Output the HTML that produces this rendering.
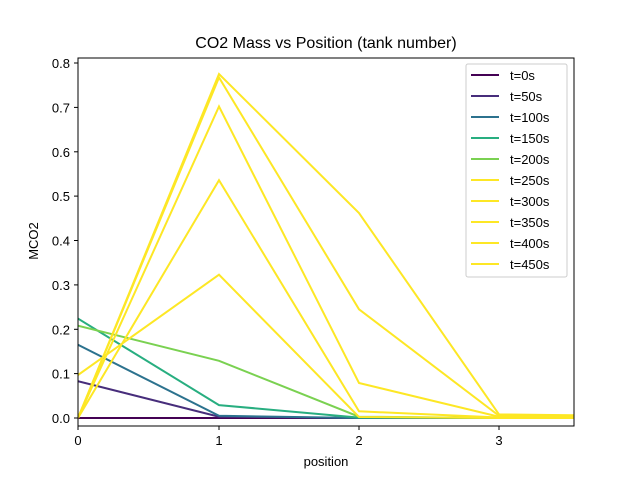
<!DOCTYPE html>
<html><head><meta charset="utf-8"><style>body{margin:0;background:#fff}svg{display:block;font-family:"Liberation Sans","DejaVu Sans",sans-serif}</style></head><body>
<svg width="637" height="477" xmlns="http://www.w3.org/2000/svg">
<defs><clipPath id="c"><rect x="78" y="58" width="496" height="368"/></clipPath></defs>
<rect width="637" height="477" fill="#fff"/>
<g clip-path="url(#c)" fill="none" stroke-width="2">
<polyline stroke="#440154" points="78,418 219,418 359,418 499,418 640,418"/>
<polyline stroke="#472d7b" points="78,381.2 219,416.7 359,418 499,418 640,418"/>
<polyline stroke="#2c728e" points="78,344.8 219,415.8 359,418 499,418 640,418"/>
<polyline stroke="#28ae80" points="78,318.6 219,405.1 359,417.6 499,418 640,418"/>
<polyline stroke="#7ad151" points="78,325.7 219,360.8 359,416.7 499,418 640,418"/>
<polyline stroke="#fde725" points="78,375 219,274.7 359,417 499,418 640,418"/>
<polyline stroke="#fde725" points="78,418 219,180.2 359,411.3 499,417.5 640,418"/>
<polyline stroke="#fde725" points="78,418 219,106.5 359,383 499,416.7 640,417.5"/>
<polyline stroke="#fde725" points="78,418 219,77.5 359,309.3 499,415.8 640,417"/>
<polyline stroke="#fde725" points="78,418 219,74 359,213 499,414.4 640,416"/>
</g>
<rect x="78" y="58" width="496" height="368" fill="none" stroke="#000" stroke-width="1"/>
<g stroke="#000" stroke-width="1">
<line x1="78" y1="426" x2="78" y2="430"/><line x1="219" y1="426" x2="219" y2="430"/><line x1="359" y1="426" x2="359" y2="430"/><line x1="499" y1="426" x2="499" y2="430"/>
<line x1="74" y1="418" x2="78" y2="418"/><line x1="74" y1="373.6" x2="78" y2="373.6"/><line x1="74" y1="329.3" x2="78" y2="329.3"/><line x1="74" y1="284.9" x2="78" y2="284.9"/><line x1="74" y1="240.5" x2="78" y2="240.5"/><line x1="74" y1="196.1" x2="78" y2="196.1"/><line x1="74" y1="151.8" x2="78" y2="151.8"/><line x1="74" y1="107.4" x2="78" y2="107.4"/><line x1="74" y1="63" x2="78" y2="63"/>
</g>
<g font-size="13" fill="#000" text-anchor="middle">
<text x="78" y="445">0</text><text x="219" y="445">1</text><text x="359" y="445">2</text><text x="499" y="445">3</text>
</g>
<g font-size="13" fill="#000" text-anchor="end">
<text x="70" y="423">0.0</text><text x="70" y="378.6">0.1</text><text x="70" y="334.3">0.2</text><text x="70" y="289.9">0.3</text><text x="70" y="245.5">0.4</text><text x="70" y="201.1">0.5</text><text x="70" y="156.8">0.6</text><text x="70" y="112.4">0.7</text><text x="70" y="68">0.8</text>
</g>
<text x="326" y="48" font-size="16" text-anchor="middle">CO2 Mass vs Position (tank number)</text>
<text x="326" y="466" font-size="13" text-anchor="middle">position</text>
<text transform="translate(38,241) rotate(-90)" font-size="13" text-anchor="middle">MCO2</text>
<rect x="466" y="64" width="101" height="213" rx="2" fill="#fff" stroke="#ccc" stroke-width="1"/>
<g stroke-width="2">
<line x1="471" y1="75" x2="499" y2="75" stroke="#440154"/>
<line x1="471" y1="96" x2="499" y2="96" stroke="#472d7b"/>
<line x1="471" y1="117" x2="499" y2="117" stroke="#2c728e"/>
<line x1="471" y1="138" x2="499" y2="138" stroke="#28ae80"/>
<line x1="471" y1="159" x2="499" y2="159" stroke="#7ad151"/>
<line x1="471" y1="180" x2="499" y2="180" stroke="#fde725"/>
<line x1="471" y1="201" x2="499" y2="201" stroke="#fde725"/>
<line x1="471" y1="222" x2="499" y2="222" stroke="#fde725"/>
<line x1="471" y1="243" x2="499" y2="243" stroke="#fde725"/>
<line x1="471" y1="264" x2="499" y2="264" stroke="#fde725"/>
</g>
<g font-size="13" fill="#000">
<text x="510" y="80">t=0s</text><text x="510" y="101">t=50s</text><text x="510" y="122">t=100s</text><text x="510" y="143">t=150s</text><text x="510" y="164">t=200s</text><text x="510" y="185">t=250s</text><text x="510" y="206">t=300s</text><text x="510" y="227">t=350s</text><text x="510" y="248">t=400s</text><text x="510" y="269">t=450s</text>
</g>
</svg>
</body></html>
